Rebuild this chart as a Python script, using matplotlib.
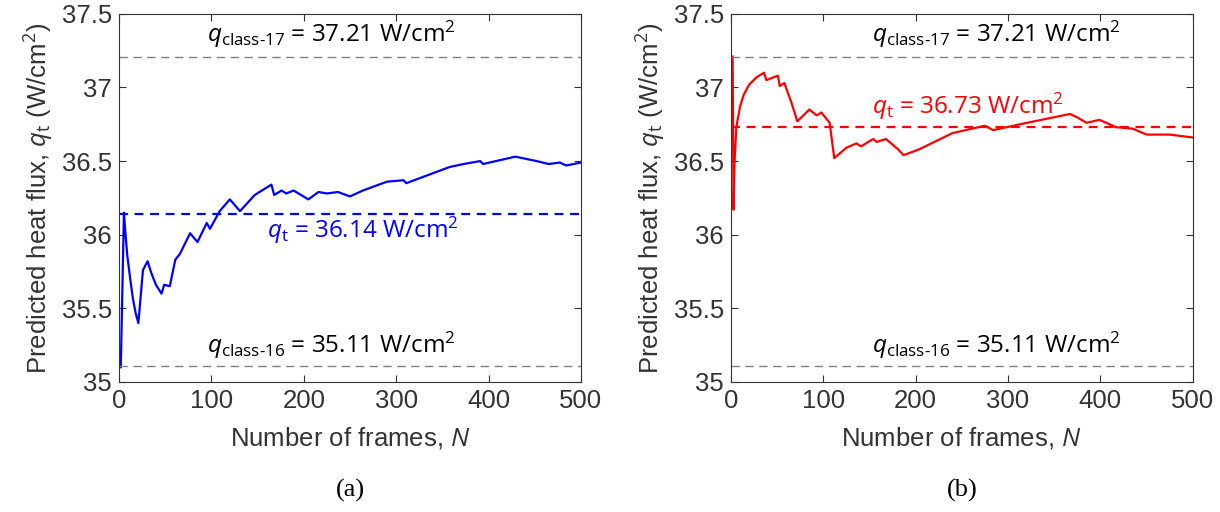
import matplotlib.pyplot as plt

plt.rcParams['font.family'] = ['Liberation Sans', 'DejaVu Sans']
plt.rcParams['mathtext.fontset'] = 'custom'
plt.rcParams['mathtext.rm'] = 'Open Sans'
plt.rcParams['mathtext.it'] = 'Open Sans:italic'

# (a) predicted heat flux vs number of frames
frames_a = [2, 5.4, 7, 9, 12, 15, 18, 21, 26, 31, 35, 40, 46, 49, 55, 61, 66, 77, 85, 95,
            98.5, 109, 120, 131, 147, 165, 168, 176, 181, 189, 205, 216, 225, 237, 250, 264,
            290, 308, 311, 358, 373, 391, 394, 429, 452, 465, 477, 484, 500]
flux_a = [35.10, 36.15, 36.01, 35.86, 35.71, 35.57, 35.47, 35.40, 35.76, 35.82, 35.74, 35.66,
          35.60, 35.66, 35.65, 35.83, 35.87, 36.01, 35.95, 36.08, 36.04, 36.16, 36.24, 36.16,
          36.27, 36.34, 36.27, 36.30, 36.28, 36.30, 36.24, 36.29, 36.28, 36.29, 36.26, 36.30,
          36.36, 36.37, 36.35, 36.46, 36.48, 36.50, 36.48, 36.53, 36.50, 36.48, 36.49, 36.47,
          36.49]
qt_a = 36.14

# (b)
frames_b = [2, 3, 4, 6, 10, 14, 20, 28, 36, 38.5, 51, 53, 58, 66, 72, 85, 93, 98, 107, 112,
            125, 136, 141, 154, 158, 168, 181, 187, 204, 240, 275, 284, 313, 367, 374, 385,
            399, 417, 435, 450, 475, 500]
flux_b = [37.21, 36.17, 36.48, 36.73, 36.87, 36.95, 37.02, 37.07, 37.10, 37.05, 37.08, 37.01,
          37.03, 36.89, 36.77, 36.85, 36.81, 36.83, 36.76, 36.52, 36.59, 36.62, 36.60, 36.65,
          36.63, 36.65, 36.58, 36.54, 36.58, 36.69, 36.74, 36.71, 36.75, 36.82, 36.80, 36.76,
          36.78, 36.73, 36.72, 36.68, 36.68, 36.66]
qt_b = 36.73

q_class17 = 37.21
q_class16 = 35.11

fig = plt.figure(figsize=(12.2, 5.12), dpi=100)
ax1 = fig.add_axes([0.0975, 0.254, 0.3787, 0.719])
ax2 = fig.add_axes([0.599, 0.254, 0.3787, 0.719])

panels = [
    (ax1, frames_a, flux_a, qt_a, 'blue', 95, (160, 36.03), '(a)'),
    (ax2, frames_b, flux_b, qt_b, 'red', 153, (153, 36.87), '(b)'),
]

for ax, xs, ys, qt, col, tx, qpos, tag in panels:
    ax.plot(xs, ys, color=col, lw=1.6)
    ax.axhline(qt, color=col, ls=(0, (4, 3)), lw=1.6)
    ax.axhline(q_class17, color='#808080', ls=(0, (6, 4)), lw=1.0)
    ax.axhline(q_class16, color='#808080', ls=(0, (6, 4)), lw=1.0)
    ax.set_xlim(0, 500)
    ax.set_ylim(35, 37.5)
    ax.set_xticks([0, 100, 200, 300, 400, 500])
    ax.set_yticks([35, 35.5, 36, 36.5, 37, 37.5])
    ax.set_yticklabels(['35', '35.5', '36', '36.5', '37', '37.5'])
    ax.tick_params(direction='in', top=True, right=True, labelsize=18.5,
                   colors='#333333', length=5, width=0.8, pad=5)
    for s in ax.spines.values():
        s.set_color('#333333')
        s.set_linewidth(0.8)
    ax.set_xlabel('Number of frames, $\\it{N}$', fontsize=18.5, color='#333333', labelpad=9)
    ax.set_ylabel('Predicted heat flux, $q_\\mathrm{t}$ (W/cm$^2$)', fontsize=18.5,
                  color='#333333', labelpad=4)
    ax.text(tx, 37.36, '$q_{\\mathrm{class\\text{-}17}}$ = 37.21 W/cm$^2$',
            fontsize=17.5, family='Open Sans', va='center', ha='left', color='black')
    ax.text(tx, 35.25, '$q_{\\mathrm{class\\text{-}16}}$ = 35.11 W/cm$^2$',
            fontsize=17.5, family='Open Sans', va='center', ha='left', color='black')
    ax.text(qpos[0], qpos[1], '$q_\\mathrm{t}$ = %.2f W/cm$^2$' % qt,
            fontsize=17.5, family='Open Sans', va='center', ha='left', color=col)
    ax.text(250, 34.26, tag, fontsize=19, family='Liberation Serif', ha='center', va='center')

fig.savefig('out.png', dpi=100)
